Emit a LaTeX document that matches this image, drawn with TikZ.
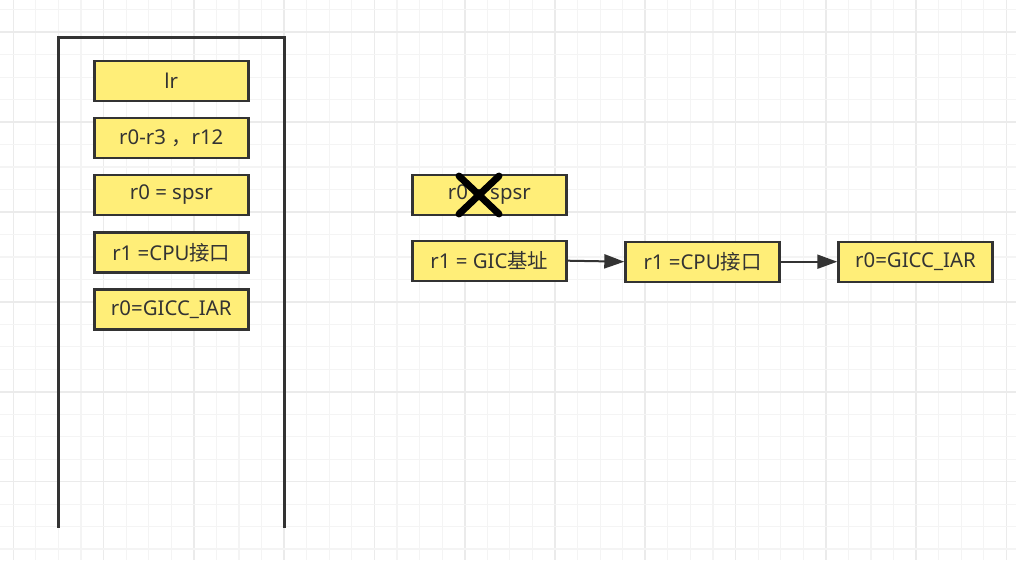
\documentclass[tikz,border=0pt]{standalone}
\usepackage{fontspec}
\setmainfont{Noto Sans}
\newfontfamily\cjk{Noto Sans CJK SC}
\usetikzlibrary{arrows.meta}
\definecolor{boxfill}{RGB}{255,238,120}
\definecolor{boxline}{RGB}{51,51,51}
\definecolor{gridminor}{RGB}{244,244,244}
\definecolor{gridmajor}{RGB}{235,235,235}
\tikzset{
  reg/.style={draw=boxline, fill=boxfill, line width=1.8pt, minimum width=154*0.75pt, minimum height=40*0.75pt, inner sep=0pt, font=\fontsize{15.3}{18}\selectfont, text=boxline},
  conn/.style={draw=boxline, line width=1.5pt, -{Triangle[length=15pt,width=10.5pt]}},
  wall/.style={draw=boxline, line width=2pt},
  cross/.style={draw=black, line width=5.2pt, line cap=round}
}
\begin{document}
\begin{tikzpicture}[x=0.75pt,y=-0.75pt]
\useasboundingbox (0,0) rectangle (1016,560);
\fill[white] (0,0) rectangle (1016,560);
% grid
\foreach \k in {0,...,45} {
  \pgfmathsetmacro{\gx}{13.3+22.57*\k}
  \pgfmathtruncatemacro{\m}{mod(\k,4)}
  \ifnum\m=0
    \draw[gridmajor, line width=1.2pt] (\gx,0) -- (\gx,560);
  \else
    \draw[gridminor, line width=0.9pt] (\gx,0) -- (\gx,560);
  \fi
}
\foreach \k in {0,...,25} {
  \pgfmathsetmacro{\gy}{9.8+22.47*\k}
  \pgfmathtruncatemacro{\m}{mod(\k+3,4)}
  \ifnum\m=0
    \draw[gridmajor, line width=1.2pt] (0,\gy) -- (1016,\gy);
  \else
    \draw[gridminor, line width=0.9pt] (0,\gy) -- (1016,\gy);
  \fi
}
% stack container
\draw[wall] (58.7,527.7) -- (58.7,37.7) -- (284.3,37.7) -- (284.3,527.7);
% stack entries
\node[reg] (lr)   at (171.3,81)    {lr};
\node[reg] (regs) at (171.3,138)   {r0-r3 {\cjk ，}r12};
\node[reg] (spsr) at (171.3,195)   {r0 = spsr};
\node[reg] (cpul) at (171.3,252.5) {r1 =CPU{\cjk 接口}};
\node[reg] (iarl) at (171.3,309.3) {r0=GICC\_IAR};
% right flow
\node[reg] (spsrr) at (489.3,195)   {r0 = spsr};
\node[reg] (gic)   at (489.3,260.7) {r1 = GIC{\cjk 基址}};
\node[reg] (cpur)  at (702.5,261.7) {r1 =CPU{\cjk 接口}};
\node[reg] (iarr)  at (915.5,261.7) {r0=GICC\_IAR};
\draw[conn] (gic.east) -- (cpur.west);
\draw[conn] (cpur.east) -- (iarr.west);
% cross
\draw[cross] (459,176) -- (499,214);
\draw[cross] (499,176) -- (459,214);
\end{tikzpicture}
\end{document}
